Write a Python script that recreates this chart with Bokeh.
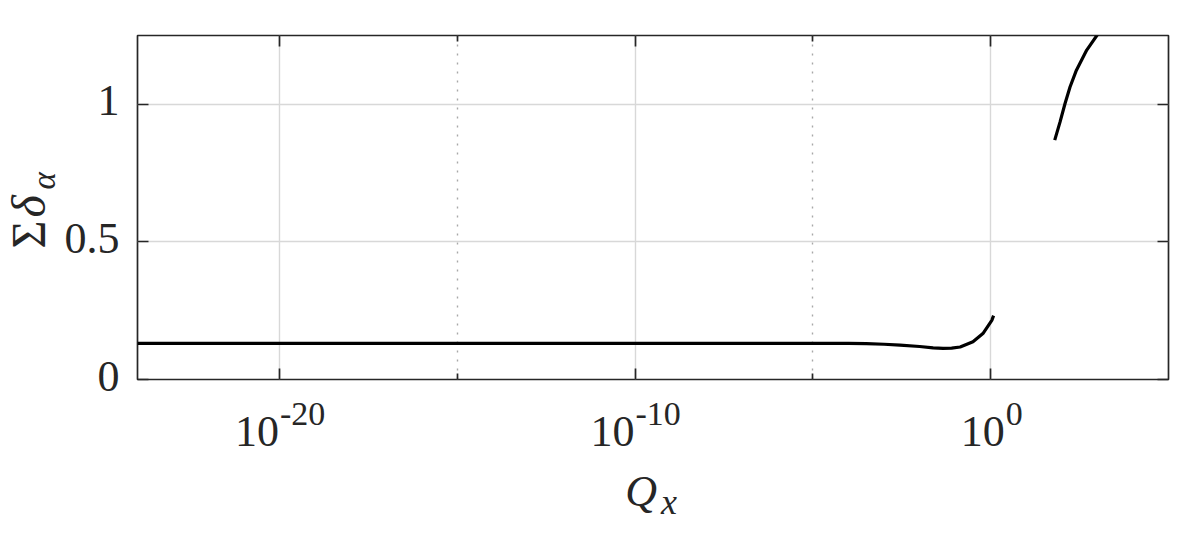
import math
from bokeh.plotting import figure
from bokeh.layouts import row, column
from bokeh.models import (Range1d, LogAxis, LinearAxis, FixedTicker,
                          CustomJSTickFormatter, ColumnDataSource)
from bokeh.core.properties import value
from bokeh.embed import file_html
from bokeh.resources import INLINE

# ---------------- data ----------------
seg1_log_q = [-24, -20, -15, -10, -5, -4, -3.5, -3, -2.55, -2, -1.62, -1.34,
              -1.1, -0.86, -0.5, -0.22, 0.03, 0.08]
seg1_sum = [0.131, 0.131, 0.131, 0.131, 0.131, 0.131, 0.130, 0.128, 0.125,
            0.120, 0.115, 0.113, 0.114, 0.118, 0.137, 0.167, 0.215, 0.232]
seg2_log_q = [1.80, 1.95, 2.09, 2.23, 2.41, 2.70, 3.05]
seg2_sum = [0.870, 0.936, 1.003, 1.063, 1.124, 1.197, 1.262]

x_lo, x_hi = 1e-24, 1e5
y_lo, y_hi = 0.0, 1.25
x_major = [1e-20, 1e-10, 1e0]
x_minor = [1e-15, 1e-5]
x_tick_base = ["10", "10", "10"]
x_tick_exp = ["-20", "-10", "0"]
y_ticks = [0, 0.5, 1]
y_tick_labels = ["0", "0.5", "1"]
x_label_main, x_label_sub = "Q", "x"
y_label_parts = ["Σ", "δ", "α"]

seg1_q = [10 ** e for e in seg1_log_q]
seg2_q = [10 ** e for e in seg2_log_q]

# ---------------- layout constants (pixels) ----------------
AX = "#262626"
FONT = "Liberation Serif"
TOTAL_W, TOTAL_H = 1180, 525
YL_W = 132
FRAME_L, FRAME_R, FRAME_T, FRAME_B = 137, 1168, 35, 379
MAIN_H = FRAME_B + 3
PX = (FRAME_B - FRAME_T) / (y_hi - y_lo)   # pixels per y unit

def fs(px):
    return value(f"{px}px")

# ---------------- main plot ----------------
main_x_range = Range1d(x_lo, x_hi)
p = figure(width=TOTAL_W - YL_W, height=MAIN_H, x_axis_type="log",
           x_range=main_x_range, y_range=Range1d(y_lo, y_hi),
           output_backend="svg", toolbar_location=None,
           min_border_left=FRAME_L - YL_W, min_border_right=TOTAL_W - FRAME_R,
           min_border_top=FRAME_T, min_border_bottom=MAIN_H - FRAME_B)
p.outline_line_color = AX
p.outline_line_width = 1.7

empty = CustomJSTickFormatter(code="return ''")

def style_axis(ax, ticker):
    ax.ticker = ticker
    ax.axis_line_color = None
    ax.major_tick_in = 11
    ax.major_tick_out = 0
    ax.minor_tick_in = 6
    ax.minor_tick_out = 0
    ax.major_tick_line_color = AX
    ax.minor_tick_line_color = AX
    ax.major_tick_line_width = 1.7
    ax.minor_tick_line_width = 1.7
    ax.formatter = empty
    ax.major_label_standoff = 0
    ax.major_label_text_font_size = "1px"

xt = FixedTicker(ticks=x_major, minor_ticks=x_minor)
yt = FixedTicker(ticks=y_ticks, minor_ticks=[])
style_axis(p.xaxis[0], xt)
style_axis(p.yaxis[0], yt)
top_ax = LogAxis()
style_axis(top_ax, FixedTicker(ticks=x_major, minor_ticks=x_minor))
p.add_layout(top_ax, "above")
right_ax = LinearAxis()
style_axis(right_ax, FixedTicker(ticks=y_ticks, minor_ticks=[]))
p.add_layout(right_ax, "right")

p.xgrid.ticker = xt
p.xgrid.grid_line_color = "#d8d8d8"
p.xgrid.grid_line_width = 1.4
p.xgrid.minor_grid_line_color = "#a8a8a8"
p.xgrid.minor_grid_line_width = 1.4
p.xgrid.minor_grid_line_dash = "2 7"
p.ygrid.ticker = yt
p.ygrid.grid_line_color = "#d8d8d8"
p.ygrid.grid_line_width = 1.4

p.line(seg1_q, seg1_sum, line_color="black", line_width=3.2)
p.line(seg2_q, seg2_sum, line_color="black", line_width=3.2)

# ---------------- x tick labels + x label (shares the main x scale) ----------------
XLAB_H = TOTAL_H - MAIN_H
gap = MAIN_H - FRAME_B
xl = figure(width=TOTAL_W - YL_W, height=XLAB_H, x_axis_type="log",
            x_axis_location=None, y_axis_location=None,
            x_range=main_x_range, y_range=Range1d(-(gap + XLAB_H), -gap),
            output_backend="svg", toolbar_location=None,
            min_border_left=FRAME_L - YL_W, min_border_right=TOTAL_W - FRAME_R,
            min_border_top=0, min_border_bottom=0)
xl.outline_line_color = None
xl.grid.visible = False

BASE_FS, SUP_FS = 44, 34
W10 = 40
def sup_width(e):
    return 11.5 * e.count("-") + 18 * sum(c.isdigit() for c in e)

shift = [(W10 - sup_width(e)) / 2 + 3 for e in x_tick_exp]
base_src = ColumnDataSource(dict(x=x_major, y=[-37] * len(x_major),
                                 t=x_tick_base, xo=shift))
exp_src = ColumnDataSource(dict(x=x_major, y=[-23] * len(x_major),
                                t=x_tick_exp, xo=[s + 1 for s in shift]))
xl.text(x="x", y="y", text="t", x_offset="xo", source=base_src,
        text_font=value(FONT), text_font_size=fs(BASE_FS), text_color=AX,
        text_align=value("right"), text_baseline=value("top"))
xl.text(x="x", y="y", text="t", x_offset="xo", source=exp_src,
        text_font=value(FONT), text_font_size=fs(SUP_FS), text_color=AX,
        text_align=value("left"), text_baseline=value("top"))

Q_FS, QS_FS = 44, 36
x_mid = 10 ** ((math.log10(x_lo) + math.log10(x_hi)) / 2)
xl.text(x=[x_mid], y=[-87], text=[x_label_main], x_offset=4,
        text_font=value(FONT), text_font_style=value("italic"),
        text_font_size=fs(Q_FS), text_color=AX,
        text_align=value("right"), text_baseline=value("top"))
xl.text(x=[x_mid], y=[-102], text=[x_label_sub], x_offset=8,
        text_font=value(FONT), text_font_style=value("italic"),
        text_font_size=fs(QS_FS), text_color=AX,
        text_align=value("left"), text_baseline=value("top"))

# ---------------- y tick labels + y label (same y scale as the main plot) ----------------
yl = figure(width=YL_W, height=TOTAL_H,
            x_axis_location=None, y_axis_location=None,
            x_range=Range1d(0, YL_W),
            y_range=Range1d(y_lo - (TOTAL_H - FRAME_B) / PX, y_hi + FRAME_T / PX),
            output_backend="svg", toolbar_location=None,
            min_border_left=0, min_border_right=0, min_border_top=0, min_border_bottom=0)
yl.outline_line_color = None
yl.grid.visible = False

TICK_FS = 44
ytick_src = ColumnDataSource(dict(x=[119] * len(y_ticks),
                                  y=[t + 18 / PX for t in y_ticks],
                                  t=y_tick_labels))
yl.text(x="x", y="y", text="t", source=ytick_src,
        text_font=value(FONT), text_font_size=fs(TICK_FS), text_color=AX,
        text_align=value("right"), text_baseline=value("top"))

ang = math.pi / 2
S_FS, A_FS = 48, 33
yl.text(x=[1], y=[131 / PX], text=[y_label_parts[0]], angle=ang,
        text_font=value(FONT), text_font_size=fs(S_FS), text_color=AX,
        text_align=value("left"), text_baseline=value("top"))
yl.text(x=[1], y=[162 / PX], text=[y_label_parts[1]], angle=ang,
        text_font=value(FONT), text_font_style=value("italic"),
        text_font_size=fs(S_FS), text_color=AX,
        text_align=value("left"), text_baseline=value("top"))
yl.text(x=[25], y=[190 / PX], text=[y_label_parts[2]], angle=ang,
        text_font=value(FONT), text_font_style=value("italic"),
        text_font_size=fs(A_FS), text_color=AX,
        text_align=value("left"), text_baseline=value("top"))

layout = row(yl, column(p, xl, spacing=0), spacing=0)
open("out.html", "w").write(file_html(layout, INLINE))
